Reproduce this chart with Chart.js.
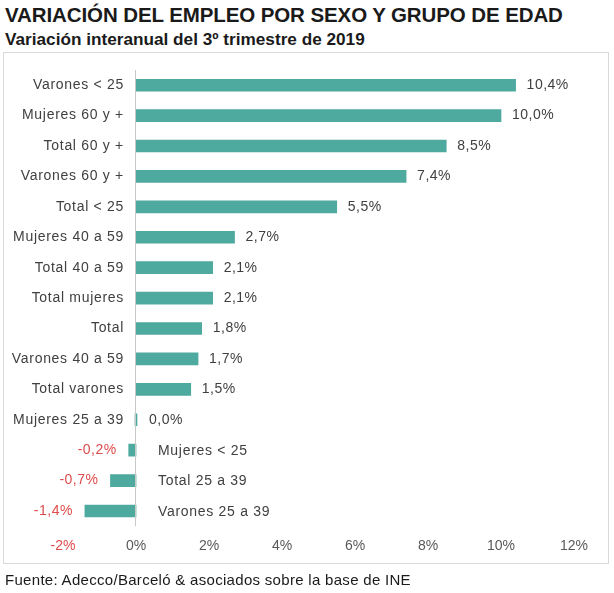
<!DOCTYPE html>
<html lang="es">
<head>
<meta charset="utf-8">
<title>Variación del empleo por sexo y grupo de edad</title>
<script src="https://cdn.jsdelivr.net/npm/chart.js@4.4.1/dist/chart.umd.min.js"></script>
<style>
  html, body { margin: 0; padding: 0; background: #fff; }
  body { width: 614px; height: 593px; position: relative; overflow: hidden; font-family: "Liberation Sans", Arial, sans-serif; }
  #title { position: absolute; left: 5px; top: 3px; font-size: 20.5px; font-weight: bold; color: #1a1a1a; white-space: nowrap; letter-spacing: -0.1px; }
  #subtitle { position: absolute; left: 5px; top: 29px; font-size: 17.2px; font-weight: bold; color: #1a1a1a; white-space: nowrap; }
  #frame { position: absolute; left: 3px; top: 52px; width: 604px; height: 510px; border: 1px solid #d9d9d9; }
  #chart { position: absolute; left: 0; top: 0; }
  #source { position: absolute; left: 5px; top: 571px; font-size: 15px; letter-spacing: 0.3px; color: #1a1a1a; white-space: nowrap; }
</style>
</head>
<body>
<div id="title">VARIACIÓN DEL EMPLEO POR SEXO Y GRUPO DE EDAD</div>
<div id="subtitle">Variación interanual del 3º trimestre de 2019</div>
<div id="frame"></div>
<canvas id="chart" width="614" height="593"></canvas>
<div id="source">Fuente: Adecco/Barceló &amp; asociados sobre la base de INE</div>

<script>
const categories = [
  'Varones < 25',
  'Mujeres 60 y +',
  'Total 60 y +',
  'Varones 60 y +',
  'Total < 25',
  'Mujeres 40 a 59',
  'Total 40 a 59',
  'Total mujeres',
  'Total',
  'Varones 40 a 59',
  'Total varones',
  'Mujeres 25 a 39',
  'Mujeres < 25',
  'Total 25 a 39',
  'Varones 25 a 39'
];
const values = [10.4, 10.0, 8.5, 7.4, 5.5, 2.7, 2.1, 2.1, 1.8, 1.7, 1.5, 0.0, -0.2, -0.7, -1.4];
const xTicks = [-2, 0, 2, 4, 6, 8, 10, 12];

const barColor = '#4ea99f';
const textColor = '#404040';
const negColor = '#dd4b4b';

const fmt = (v) => v.toFixed(1).replace('.', ',') + '%';

// etiquetas de categoria y valores dibujadas junto a cada barra
const labelPlugin = {
  id: 'barLabels',
  afterDatasetsDraw(chart) {
    const { ctx, chartArea } = chart;
    const xs = chart.scales.x;
    const ys = chart.scales.y;
    const zeroX = xs.getPixelForValue(0);

    ctx.save();
    ctx.strokeStyle = '#c8c8c8';
    ctx.lineWidth = 1;
    ctx.beginPath();
    ctx.moveTo(Math.round(zeroX) - 0.5, chartArea.top);
    ctx.lineTo(Math.round(zeroX) - 0.5, chartArea.bottom);
    ctx.stroke();

    ctx.font = '14px "Liberation Sans", Arial, sans-serif';
    ctx.textBaseline = 'middle';
    values.forEach((v, i) => {
      const y = ys.getPixelForValue(i);
      const endX = xs.getPixelForValue(v);
      ctx.letterSpacing = '0.7px';
      if (v >= 0) {
        ctx.fillStyle = textColor;
        ctx.textAlign = 'right';
        ctx.fillText(categories[i], zeroX - 12, y);
        ctx.letterSpacing = '0.5px';
        ctx.textAlign = 'left';
        ctx.fillText(fmt(v), Math.max(endX, zeroX + 2) + 11, y);
      } else {
        ctx.fillStyle = textColor;
        ctx.textAlign = 'left';
        ctx.fillText(categories[i], zeroX + 22, y + 1);
        ctx.letterSpacing = '0.5px';
        ctx.fillStyle = negColor;
        ctx.textAlign = 'right';
        ctx.fillText(fmt(v), endX - 12, y);
      }
    });
    ctx.restore();
  }
};

new Chart(document.getElementById('chart'), {
  type: 'bar',
  data: {
    labels: categories,
    datasets: [{
      data: values,
      backgroundColor: barColor,
      borderWidth: 0,
      barThickness: 12,
      minBarLength: 2
    }]
  },
  options: {
    indexAxis: 'y',
    responsive: false,
    animation: false,
    layout: { padding: { left: 63, right: 40, top: 70, bottom: 26 } },
    plugins: {
      legend: { display: false },
      tooltip: { enabled: false }
    },
    scales: {
      x: {
        min: -2,
        max: 12,
        afterBuildTicks: (scale) => { scale.ticks = xTicks.map((v) => ({ value: v })); },
        grid: { display: false, drawTicks: false },
        border: { display: false },
        ticks: {
          padding: 12,
          font: { size: 14, family: '"Liberation Sans", Arial, sans-serif' },
          color: (c) => (c.tick && c.tick.value < 0 ? negColor : '#595959'),
          callback: (v) => v + '%'
        }
      },
      y: {
        display: false
      }
    }
  },
  plugins: [labelPlugin]
});
</script>
</body>
</html>
